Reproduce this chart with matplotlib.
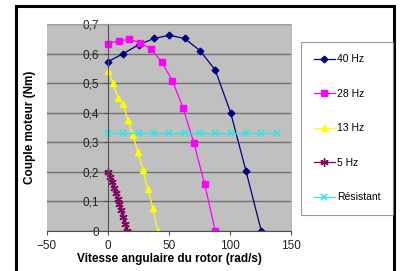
import matplotlib

matplotlib.use("Agg")
import matplotlib.pyplot as plt
from matplotlib.patches import Rectangle
from matplotlib.ticker import FuncFormatter

plt.rcParams["font.family"] = ["Liberation Sans", "DejaVu Sans"]

# speeds (rad/s) and torques (Nm)
w_40 = [0, 12.57, 25.13, 37.70, 50.27, 62.83, 75.40, 87.96, 100.53, 113.10, 125.66]
c_40 = [0.573, 0.600, 0.630, 0.651, 0.662, 0.651, 0.610, 0.544, 0.400, 0.203, 0.0]

w_28 = [0, 8.80, 17.59, 26.39, 35.19, 43.98, 52.78, 61.58, 70.37, 79.17, 87.96]
c_28 = [0.634, 0.643, 0.648, 0.637, 0.616, 0.572, 0.508, 0.416, 0.298, 0.159, 0.0]

w_13 = [0, 4.08, 8.17, 12.25, 16.34, 20.42, 24.50, 28.59, 32.67, 36.76, 40.84]
c_13 = [0.542, 0.501, 0.450, 0.431, 0.375, 0.323, 0.268, 0.206, 0.141, 0.077, 0.0]

w_5 = [0, 1.57, 3.14, 4.71, 6.28, 7.85, 9.42, 11.00, 12.57, 14.14, 15.71]
c_5 = [0.200, 0.183, 0.165, 0.147, 0.128, 0.109, 0.090, 0.070, 0.048, 0.025, 0.0]

w_res = [0, 12.57, 25.13, 37.70, 50.27, 62.83, 75.40, 87.96, 100.53, 113.10, 125.66, 138.23]
c_res = [0.333] * len(w_res)

fig = plt.figure(figsize=(4.01, 2.71), dpi=100)
ax = fig.add_axes([47 / 401, 1 - 231 / 271, 244 / 401, 207 / 271])
ax.set_facecolor("#c0c0c0")

ax.plot(w_40, c_40, color="#000080", lw=0.9, marker="D", ms=3.4, label="40 Hz")
ax.plot(w_28, c_28, color="#ff00ff", lw=0.9, marker="s", ms=4.8, label="28 Hz")
ax.plot(w_13, c_13, color="#ffff00", lw=0.9, marker="^", ms=4.8, label="13 Hz")
ax.plot(w_5, c_5, color="#800060", lw=0.9, marker=(6, 2, 0), ms=6, mew=1.0, label="5 Hz")
ax.plot(w_res, c_res, color="#33e6e6", lw=0.9, marker="x", ms=4.5, mew=1.2, label="Résistant")

ax.set_xlim(-50, 150)
ax.set_ylim(0, 0.7)
ax.set_xticks([-50, 0, 50, 100, 150])
ax.set_yticks([0, 0.1, 0.2, 0.3, 0.4, 0.5, 0.6, 0.7])
ax.yaxis.set_major_formatter(FuncFormatter(lambda v, p: f"{v:g}".replace(".", ",")))
ax.grid(axis="y", color="#707070", lw=1.0)
ax.set_axisbelow(True)

ax.spines["left"].set_position(("data", 0))
ax.spines["left"].set_color("#505050")
ax.spines["bottom"].set_color("#505050")
for s in ["top", "right"]:
    ax.spines[s].set_color("#a8a8a8")
    ax.spines[s].set_linewidth(0.6)
ax.tick_params(axis="both", labelsize=8.5, length=3, color="#505050", labelcolor="#222222")

ax.set_xlabel("Vitesse angulaire du rotor (rad/s)", fontsize=8.5, fontweight="bold", labelpad=1)
ax.set_ylabel("Couple moteur (Nm)", fontsize=8.5, fontweight="bold")
ax.yaxis.set_label_coords(-0.045, 0.5)

leg = fig.legend(
    loc="upper left",
    bbox_to_anchor=(301 / 401, 1 - 42 / 271),
    fontsize=7.5,
    frameon=True,
    fancybox=False,
    edgecolor="#808080",
    labelspacing=2.35,
    handlelength=2.1,
    handletextpad=0.15,
    borderpad=1.2,
    borderaxespad=0,
)
leg.get_frame().set_linewidth(0.8)

# outer frame like the pasted Excel chart
fig.patches.append(Rectangle((16 / 401, -0.05), 378 / 401, 1.05 - 6 / 271,
                             transform=fig.transFigure, fill=False, edgecolor="black", lw=2.2))

fig.savefig("out.png", dpi=100)
plt.close(fig)
